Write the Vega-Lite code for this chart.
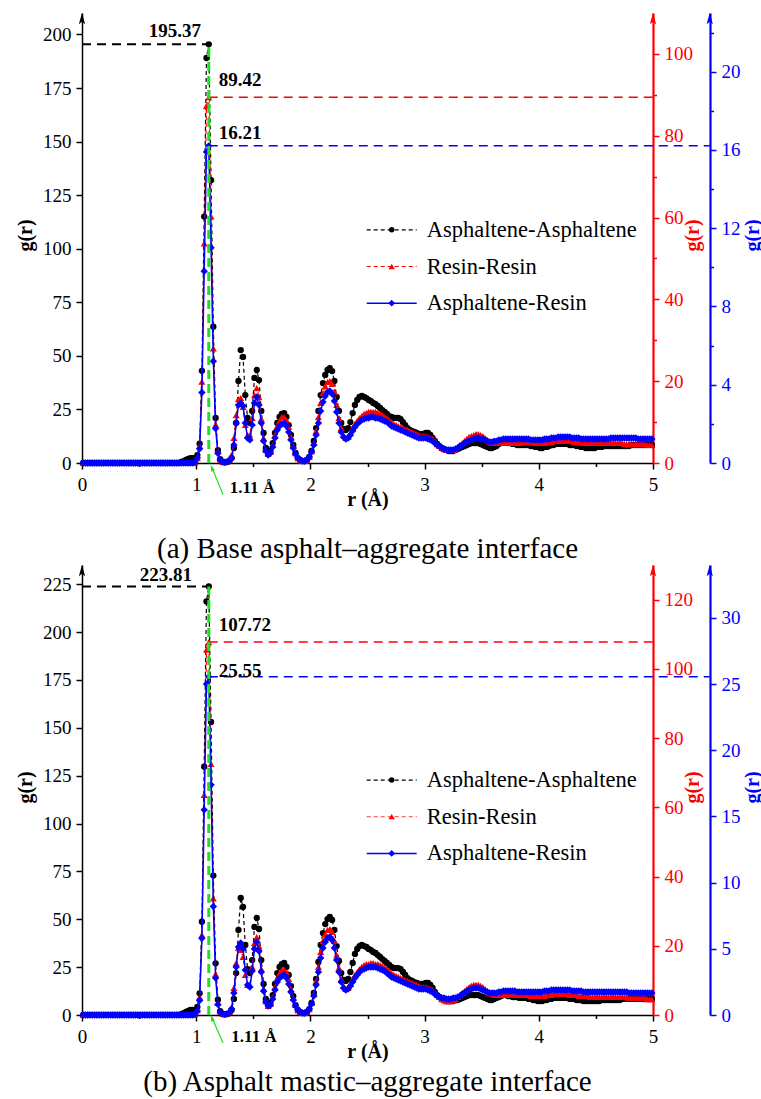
{
"$schema": "https://vega.github.io/schema/vega-lite/v6.json",
"background": "white",
"padding": {"left": 15, "top": 12, "right": 0, "bottom": 0},
"spacing": 0,
"config": {
  "view": {"stroke": null},
  "font": "Liberation Serif",
  "axis": {"grid": false, "labelFont": "Liberation Serif", "labelFontSize": 19, "titleFont": "Liberation Serif", "titleFontSize": 20, "titleFontWeight": "bold", "tickWidth": 1.5, "domainWidth": 1.5, "labelPadding": 5, "labelOverlap": false, "labelFlush": false, "labelBound": false, "domainColor": "black", "tickColor": "black", "labelColor": "black", "titleColor": "black"},
  "text": {"font": "Liberation Serif"},
  "title": {"font": "Liberation Serif"}
},
"datasets": {"rdf": [
{"r":0.01,"a1":0,"a2":0,"a3":0,"b1":0,"b2":0,"b3":0},
{"r":0.03,"a1":0,"a2":0,"a3":0,"b1":0,"b2":0,"b3":0},
{"r":0.05,"a1":0,"a2":0,"a3":0,"b1":0,"b2":0,"b3":0},
{"r":0.07,"a1":0,"a2":0,"a3":0,"b1":0,"b2":0,"b3":0},
{"r":0.09,"a1":0,"a2":0,"a3":0,"b1":0,"b2":0,"b3":0},
{"r":0.11,"a1":0,"a2":0,"a3":0,"b1":0,"b2":0,"b3":0},
{"r":0.13,"a1":0,"a2":0,"a3":0,"b1":0,"b2":0,"b3":0},
{"r":0.15,"a1":0,"a2":0,"a3":0,"b1":0,"b2":0,"b3":0},
{"r":0.17,"a1":0,"a2":0,"a3":0,"b1":0,"b2":0,"b3":0},
{"r":0.19,"a1":0,"a2":0,"a3":0,"b1":0,"b2":0,"b3":0},
{"r":0.21,"a1":0,"a2":0,"a3":0,"b1":0,"b2":0,"b3":0},
{"r":0.23,"a1":0,"a2":0,"a3":0,"b1":0,"b2":0,"b3":0},
{"r":0.25,"a1":0,"a2":0,"a3":0,"b1":0,"b2":0,"b3":0},
{"r":0.27,"a1":0,"a2":0,"a3":0,"b1":0,"b2":0,"b3":0},
{"r":0.29,"a1":0,"a2":0,"a3":0,"b1":0,"b2":0,"b3":0},
{"r":0.31,"a1":0,"a2":0,"a3":0,"b1":0,"b2":0,"b3":0},
{"r":0.33,"a1":0,"a2":0,"a3":0,"b1":0,"b2":0,"b3":0},
{"r":0.35,"a1":0,"a2":0,"a3":0,"b1":0,"b2":0,"b3":0},
{"r":0.37,"a1":0,"a2":0,"a3":0,"b1":0,"b2":0,"b3":0},
{"r":0.39,"a1":0,"a2":0,"a3":0,"b1":0,"b2":0,"b3":0},
{"r":0.41,"a1":0,"a2":0,"a3":0,"b1":0,"b2":0,"b3":0},
{"r":0.43,"a1":0,"a2":0,"a3":0,"b1":0,"b2":0,"b3":0},
{"r":0.45,"a1":0,"a2":0,"a3":0,"b1":0,"b2":0,"b3":0},
{"r":0.47,"a1":0,"a2":0,"a3":0,"b1":0,"b2":0,"b3":0},
{"r":0.49,"a1":0,"a2":0,"a3":0,"b1":0,"b2":0,"b3":0},
{"r":0.51,"a1":0,"a2":0,"a3":0,"b1":0,"b2":0,"b3":0},
{"r":0.53,"a1":0,"a2":0,"a3":0,"b1":0,"b2":0,"b3":0},
{"r":0.55,"a1":0,"a2":0,"a3":0,"b1":0,"b2":0,"b3":0},
{"r":0.57,"a1":0,"a2":0,"a3":0,"b1":0,"b2":0,"b3":0},
{"r":0.59,"a1":0,"a2":0,"a3":0,"b1":0,"b2":0,"b3":0},
{"r":0.61,"a1":0,"a2":0,"a3":0,"b1":0,"b2":0,"b3":0},
{"r":0.63,"a1":0,"a2":0,"a3":0,"b1":0,"b2":0,"b3":0},
{"r":0.65,"a1":0,"a2":0,"a3":0,"b1":0,"b2":0,"b3":0},
{"r":0.67,"a1":0,"a2":0,"a3":0,"b1":0,"b2":0,"b3":0},
{"r":0.69,"a1":0,"a2":0,"a3":0,"b1":0,"b2":0,"b3":0},
{"r":0.71,"a1":0,"a2":0,"a3":0,"b1":0,"b2":0,"b3":0},
{"r":0.73,"a1":0,"a2":0,"a3":0,"b1":0,"b2":0,"b3":0},
{"r":0.75,"a1":0,"a2":0,"a3":0,"b1":0,"b2":0,"b3":0},
{"r":0.77,"a1":0,"a2":0,"a3":0,"b1":0,"b2":0,"b3":0},
{"r":0.79,"a1":0,"a2":0,"a3":0,"b1":0,"b2":0,"b3":0},
{"r":0.81,"a1":0,"a2":0,"a3":0,"b1":0,"b2":0,"b3":0},
{"r":0.83,"a1":0,"a2":0,"a3":0,"b1":0,"b2":0,"b3":0},
{"r":0.85,"a1":0,"a2":0,"a3":0,"b1":0,"b2":0,"b3":0},
{"r":0.87,"a1":0.5,"a2":0,"a3":0,"b1":0.5,"b2":0,"b3":0},
{"r":0.89,"a1":0.9,"a2":0,"a3":0,"b1":1.0,"b2":0,"b3":0},
{"r":0.91,"a1":1.4,"a2":0,"a3":0,"b1":1.6,"b2":0,"b3":0},
{"r":0.93,"a1":1.9,"a2":0,"a3":0,"b1":2.1,"b2":0,"b3":0},
{"r":0.95,"a1":2.3,"a2":0,"a3":0,"b1":2.6,"b2":0,"b3":0},
{"r":0.97,"a1":2.3,"a2":0,"a3":0,"b1":2.6,"b2":0,"b3":0},
{"r":0.99,"a1":2.3,"a2":0.2,"a3":0.05,"b1":2.6,"b2":0.3,"b3":0.08},
{"r":1.01,"a1":3.7,"a2":1.2,"a3":0.26,"b1":4.2,"b2":1.4,"b3":0.3},
{"r":1.03,"a1":9,"a2":4.2,"a3":0.73,"b1":11.3,"b2":5.2,"b3":1.1},
{"r":1.05,"a1":43,"a2":19.9,"a3":3.6,"b1":48.7,"b2":23.1,"b3":5.8},
{"r":1.07,"a1":115,"a2":53.7,"a3":9.8,"b1":129.7,"b2":63.6,"b3":15.5},
{"r":1.09,"a1":189,"a2":87.3,"a3":15.9,"b1":216,"b2":105.5,"b3":25.0},
{"r":1.11,"a1":195.37,"a2":89.42,"a3":16.21,"b1":223.81,"b2":107.72,"b3":25.55},
{"r":1.13,"a1":132,"a2":60.3,"a3":11.0,"b1":153,"b2":72.5,"b3":17.4},
{"r":1.15,"a1":63.6,"a2":28,"a3":5.2,"b1":72.8,"b2":33.7,"b3":8.2},
{"r":1.17,"a1":21,"a2":9.4,"a3":1.76,"b1":27,"b2":11.8,"b3":2.8},
{"r":1.19,"a1":6,"a2":2.9,"a3":0.5,"b1":8,"b2":3.5,"b3":0.8},
{"r":1.21,"a1":1.8,"a2":0.9,"a3":0.15,"b1":2.0,"b2":1.0,"b3":0.2},
{"r":1.23,"a1":0.6,"a2":0.3,"a3":0.06,"b1":0.7,"b2":0.4,"b3":0.08},
{"r":1.25,"a1":0.3,"a2":0.2,"a3":0.04,"b1":0.4,"b2":0.2,"b3":0.05},
{"r":1.27,"a1":0.5,"a2":0.4,"a3":0.06,"b1":0.6,"b2":0.4,"b3":0.08},
{"r":1.29,"a1":0.9,"a2":0.7,"a3":0.1,"b1":1.0,"b2":0.9,"b3":0.15},
{"r":1.31,"a1":2.3,"a2":2.0,"a3":0.26,"b1":2.6,"b2":2.3,"b3":0.45},
{"r":1.33,"a1":7.0,"a2":6.1,"a3":0.92,"b1":8.4,"b2":7.8,"b3":1.66},
{"r":1.35,"a1":18.7,"a2":11.7,"a3":2.04,"b1":21.9,"b2":15.0,"b3":3.63},
{"r":1.37,"a1":38.3,"a2":15.6,"a3":2.96,"b1":44.4,"b2":19.4,"b3":5.14},
{"r":1.39,"a1":52.7,"a2":15.9,"a3":3.07,"b1":61.1,"b2":18.8,"b3":5.44},
{"r":1.41,"a1":49.5,"a2":13.7,"a3":2.91,"b1":56.4,"b2":16.8,"b3":4.99},
{"r":1.43,"a1":31.7,"a2":9.3,"a3":2.04,"b1":36.6,"b2":11.6,"b3":3.40},
{"r":1.45,"a1":21.0,"a2":6.8,"a3":1.28,"b1":24.0,"b2":8.7,"b3":2.27},
{"r":1.47,"a1":18.7,"a2":6.8,"a3":1.18,"b1":21.9,"b2":8.7,"b3":2.12},
{"r":1.49,"a1":24.3,"a2":11.0,"a3":1.94,"b1":28.7,"b2":13.9,"b3":3.32},
{"r":1.51,"a1":39.7,"a2":16.6,"a3":3.07,"b1":46.0,"b2":20.8,"b3":4.99},
{"r":1.53,"a1":43.4,"a2":18.3,"a3":3.37,"b1":50.7,"b2":22.5,"b3":5.52},
{"r":1.55,"a1":38.7,"a2":16.1,"a3":2.96,"b1":44.9,"b2":19.9,"b3":4.84},
{"r":1.57,"a1":24.3,"a2":10.8,"a3":2.04,"b1":28.7,"b2":13.3,"b3":3.25},
{"r":1.59,"a1":14.0,"a2":6.1,"a3":1.12,"b1":16.2,"b2":7.5,"b3":1.81},
{"r":1.61,"a1":7.0,"a2":3.2,"a3":0.61,"b1":8.4,"b2":4.0,"b3":0.98},
{"r":1.63,"a1":4.7,"a2":2.2,"a3":0.41,"b1":5.2,"b2":2.6,"b3":0.68},
{"r":1.65,"a1":5.6,"a2":2.7,"a3":0.51,"b1":6.3,"b2":3.2,"b3":0.76},
{"r":1.67,"a1":9.3,"a2":4.4,"a3":0.82,"b1":10.4,"b2":5.2,"b3":1.21},
{"r":1.69,"a1":14.0,"a2":6.8,"a3":1.28,"b1":16.2,"b2":8.1,"b3":1.89},
{"r":1.71,"a1":18.7,"a2":9.0,"a3":1.69,"b1":21.9,"b2":10.7,"b3":2.49},
{"r":1.73,"a1":21.5,"a2":10.3,"a3":1.89,"b1":25.1,"b2":12.1,"b3":2.80},
{"r":1.75,"a1":22.9,"a2":11.2,"a3":1.99,"b1":26.6,"b2":13.0,"b3":2.95},
{"r":1.77,"a1":23.3,"a2":11.2,"a3":2.04,"b1":27.2,"b2":13.0,"b3":3.02},
{"r":1.79,"a1":21.5,"a2":10.5,"a3":1.89,"b1":25.1,"b2":12.4,"b3":2.80},
{"r":1.81,"a1":17.7,"a2":8.8,"a3":1.58,"b1":20.9,"b2":10.4,"b3":2.34},
{"r":1.83,"a1":13.1,"a2":6.4,"a3":1.18,"b1":15.1,"b2":7.5,"b3":1.74},
{"r":1.85,"a1":8.4,"a2":4.2,"a3":0.77,"b1":9.9,"b2":4.9,"b3":1.13},
{"r":1.87,"a1":4.7,"a2":2.4,"a3":0.46,"b1":5.2,"b2":2.9,"b3":0.68},
{"r":1.89,"a1":2.3,"a2":1.2,"a3":0.26,"b1":2.6,"b2":1.4,"b3":0.38},
{"r":1.91,"a1":1.4,"a2":0.7,"a3":0.15,"b1":1.6,"b2":0.9,"b3":0.23},
{"r":1.93,"a1":0.9,"a2":0.5,"a3":0.10,"b1":1.0,"b2":0.6,"b3":0.15},
{"r":1.95,"a1":0.9,"a2":0.5,"a3":0.10,"b1":1.0,"b2":0.6,"b3":0.15},
{"r":1.97,"a1":1.4,"a2":0.7,"a3":0.15,"b1":1.6,"b2":0.9,"b3":0.23},
{"r":1.99,"a1":2.8,"a2":1.5,"a3":0.31,"b1":3.1,"b2":1.7,"b3":0.45},
{"r":2.01,"a1":5.6,"a2":2.9,"a3":0.56,"b1":6.3,"b2":3.5,"b3":0.83},
{"r":2.03,"a1":10.3,"a2":4.9,"a3":0.92,"b1":11.5,"b2":6.1,"b3":1.44},
{"r":2.05,"a1":16.3,"a2":7.8,"a3":1.43,"b1":18.8,"b2":9.8,"b3":2.27},
{"r":2.07,"a1":24.3,"a2":11.2,"a3":2.04,"b1":27.7,"b2":13.9,"b3":3.25},
{"r":2.09,"a1":31.7,"a2":14.7,"a3":2.66,"b1":36.6,"b2":18.2,"b3":4.31},
{"r":2.11,"a1":37.3,"a2":17.1,"a3":3.12,"b1":42.8,"b2":21.4,"b3":5.06},
{"r":2.13,"a1":41.1,"a2":18.8,"a3":3.42,"b1":47.5,"b2":23.4,"b3":5.52},
{"r":2.15,"a1":43.4,"a2":19.8,"a3":3.63,"b1":50.1,"b2":24.6,"b3":5.82},
{"r":2.17,"a1":44.3,"a2":20.0,"a3":3.68,"b1":51.2,"b2":24.8,"b3":5.89},
{"r":2.19,"a1":42.9,"a2":19.3,"a3":3.53,"b1":49.6,"b2":24.0,"b3":5.67},
{"r":2.21,"a1":38.3,"a2":17.4,"a3":3.17,"b1":44.4,"b2":21.4,"b3":5.06},
{"r":2.23,"a1":30.8,"a2":14.2,"a3":2.61,"b1":36.0,"b2":17.3,"b3":4.16},
{"r":2.25,"a1":24.3,"a2":11.0,"a3":2.04,"b1":28.2,"b2":13.6,"b3":3.25},
{"r":2.27,"a1":18.7,"a2":8.6,"a3":1.58,"b1":21.9,"b2":10.4,"b3":2.49},
{"r":2.29,"a1":15.9,"a2":6.8,"a3":1.33,"b1":18.3,"b2":8.4,"b3":2.04},
{"r":2.31,"a1":15.4,"a2":6.1,"a3":1.23,"b1":17.8,"b2":7.5,"b3":1.89},
{"r":2.33,"a1":16.3,"a2":6.4,"a3":1.28,"b1":18.8,"b2":7.8,"b3":1.96},
{"r":2.35,"a1":19.1,"a2":7.3,"a3":1.43,"b1":22.5,"b2":9.0,"b3":2.19},
{"r":2.37,"a1":23.3,"a2":8.6,"a3":1.64,"b1":27.2,"b2":10.4,"b3":2.49},
{"r":2.39,"a1":27.1,"a2":9.5,"a3":1.84,"b1":31.9,"b2":11.6,"b3":2.80},
{"r":2.41,"a1":29.4,"a2":10.3,"a3":1.99,"b1":34.5,"b2":12.4,"b3":3.02},
{"r":2.43,"a1":30.8,"a2":11.0,"a3":2.10,"b1":36.0,"b2":13.3,"b3":3.25},
{"r":2.45,"a1":31.3,"a2":11.5,"a3":2.20,"b1":36.6,"b2":13.9,"b3":3.40},
{"r":2.47,"a1":30.8,"a2":12.0,"a3":2.25,"b1":36.0,"b2":14.4,"b3":3.48},
{"r":2.49,"a1":30.3,"a2":12.2,"a3":2.30,"b1":35.5,"b2":14.7,"b3":3.55},
{"r":2.51,"a1":29.4,"a2":12.5,"a3":2.30,"b1":34.5,"b2":14.7,"b3":3.63},
{"r":2.53,"a1":28.9,"a2":12.5,"a3":2.35,"b1":33.9,"b2":15.0,"b3":3.63},
{"r":2.55,"a1":28.0,"a2":12.5,"a3":2.35,"b1":32.9,"b2":15.0,"b3":3.63},
{"r":2.57,"a1":27.5,"a2":12.5,"a3":2.30,"b1":32.4,"b2":14.7,"b3":3.63},
{"r":2.59,"a1":26.6,"a2":12.2,"a3":2.30,"b1":31.3,"b2":14.7,"b3":3.55},
{"r":2.61,"a1":25.7,"a2":12.0,"a3":2.25,"b1":30.3,"b2":14.4,"b3":3.48},
{"r":2.63,"a1":24.7,"a2":11.7,"a3":2.20,"b1":29.2,"b2":14.2,"b3":3.40},
{"r":2.65,"a1":23.8,"a2":11.2,"a3":2.15,"b1":28.2,"b2":13.6,"b3":3.32},
{"r":2.67,"a1":22.9,"a2":11.0,"a3":2.10,"b1":27.2,"b2":13.3,"b3":3.17},
{"r":2.69,"a1":21.9,"a2":10.5,"a3":1.99,"b1":26.1,"b2":12.7,"b3":3.02},
{"r":2.71,"a1":21.5,"a2":10.0,"a3":1.89,"b1":25.1,"b2":12.1,"b3":2.87},
{"r":2.73,"a1":21.0,"a2":9.5,"a3":1.84,"b1":24.5,"b2":11.6,"b3":2.80},
{"r":2.75,"a1":21.0,"a2":9.3,"a3":1.79,"b1":24.5,"b2":11.3,"b3":2.72},
{"r":2.77,"a1":21.0,"a2":9.0,"a3":1.74,"b1":24.5,"b2":11.0,"b3":2.64},
{"r":2.79,"a1":20.5,"a2":8.8,"a3":1.69,"b1":24.0,"b2":10.7,"b3":2.57},
{"r":2.81,"a1":19.1,"a2":8.6,"a3":1.64,"b1":22.5,"b2":10.4,"b3":2.49},
{"r":2.83,"a1":17.7,"a2":8.3,"a3":1.58,"b1":20.9,"b2":10.1,"b3":2.42},
{"r":2.85,"a1":16.3,"a2":8.1,"a3":1.53,"b1":19.3,"b2":9.8,"b3":2.34},
{"r":2.87,"a1":15.4,"a2":7.8,"a3":1.48,"b1":18.3,"b2":9.5,"b3":2.27},
{"r":2.89,"a1":14.9,"a2":7.6,"a3":1.43,"b1":17.8,"b2":9.2,"b3":2.19},
{"r":2.91,"a1":14.5,"a2":7.3,"a3":1.38,"b1":17.2,"b2":9.0,"b3":2.12},
{"r":2.93,"a1":14.0,"a2":7.1,"a3":1.33,"b1":16.7,"b2":8.7,"b3":2.04},
{"r":2.95,"a1":13.5,"a2":6.8,"a3":1.28,"b1":16.2,"b2":8.4,"b3":1.96},
{"r":2.97,"a1":13.5,"a2":6.6,"a3":1.28,"b1":16.2,"b2":8.1,"b3":1.96},
{"r":2.99,"a1":13.5,"a2":6.6,"a3":1.28,"b1":16.2,"b2":8.1,"b3":1.96},
{"r":3.01,"a1":14.0,"a2":6.6,"a3":1.28,"b1":16.7,"b2":8.1,"b3":1.96},
{"r":3.03,"a1":14.0,"a2":6.4,"a3":1.23,"b1":16.7,"b2":7.8,"b3":1.89},
{"r":3.05,"a1":13.1,"a2":6.1,"a3":1.18,"b1":15.7,"b2":7.5,"b3":1.81},
{"r":3.07,"a1":11.7,"a2":5.9,"a3":1.12,"b1":14.1,"b2":7.2,"b3":1.74},
{"r":3.09,"a1":10.3,"a2":5.4,"a3":1.02,"b1":12.0,"b2":6.6,"b3":1.59},
{"r":3.11,"a1":8.9,"a2":4.6,"a3":0.92,"b1":10.4,"b2":5.8,"b3":1.44},
{"r":3.13,"a1":7.9,"a2":4.2,"a3":0.87,"b1":9.4,"b2":5.2,"b3":1.36},
{"r":3.15,"a1":7.0,"a2":3.7,"a3":0.77,"b1":8.4,"b2":4.6,"b3":1.28},
{"r":3.17,"a1":6.5,"a2":3.4,"a3":0.72,"b1":7.8,"b2":4.3,"b3":1.28},
{"r":3.19,"a1":6.1,"a2":3.2,"a3":0.67,"b1":7.3,"b2":4.0,"b3":1.21},
{"r":3.21,"a1":5.6,"a2":3.2,"a3":0.67,"b1":7.3,"b2":4.0,"b3":1.21},
{"r":3.23,"a1":5.6,"a2":3.2,"a3":0.67,"b1":7.3,"b2":4.0,"b3":1.21},
{"r":3.25,"a1":5.6,"a2":3.2,"a3":0.67,"b1":7.3,"b2":4.3,"b3":1.28},
{"r":3.27,"a1":6.1,"a2":3.4,"a3":0.72,"b1":7.8,"b2":4.6,"b3":1.28},
{"r":3.29,"a1":6.5,"a2":3.9,"a3":0.77,"b1":7.8,"b2":5.2,"b3":1.36},
{"r":3.31,"a1":7.0,"a2":4.4,"a3":0.87,"b1":8.4,"b2":5.8,"b3":1.44},
{"r":3.33,"a1":7.5,"a2":4.9,"a3":0.92,"b1":8.9,"b2":6.4,"b3":1.59},
{"r":3.35,"a1":7.9,"a2":5.4,"a3":1.02,"b1":9.4,"b2":6.9,"b3":1.66},
{"r":3.37,"a1":8.4,"a2":5.9,"a3":1.07,"b1":9.9,"b2":7.5,"b3":1.81},
{"r":3.39,"a1":8.9,"a2":6.4,"a3":1.12,"b1":10.4,"b2":8.1,"b3":1.89},
{"r":3.41,"a1":9.3,"a2":6.6,"a3":1.18,"b1":10.4,"b2":8.4,"b3":1.96},
{"r":3.43,"a1":9.3,"a2":6.8,"a3":1.23,"b1":10.4,"b2":8.7,"b3":2.04},
{"r":3.45,"a1":9.3,"a2":7.1,"a3":1.28,"b1":10.4,"b2":8.7,"b3":2.04},
{"r":3.47,"a1":9.3,"a2":7.1,"a3":1.28,"b1":10.4,"b2":8.7,"b3":2.04},
{"r":3.49,"a1":8.9,"a2":6.8,"a3":1.23,"b1":9.9,"b2":8.4,"b3":1.96},
{"r":3.51,"a1":8.4,"a2":6.6,"a3":1.23,"b1":9.4,"b2":8.1,"b3":1.89},
{"r":3.53,"a1":7.9,"a2":6.1,"a3":1.18,"b1":8.9,"b2":7.5,"b3":1.81},
{"r":3.55,"a1":7.5,"a2":5.6,"a3":1.12,"b1":8.4,"b2":6.9,"b3":1.74},
{"r":3.57,"a1":7.0,"a2":5.1,"a3":1.07,"b1":7.8,"b2":6.4,"b3":1.66},
{"r":3.59,"a1":7.0,"a2":4.9,"a3":1.07,"b1":7.8,"b2":6.1,"b3":1.66},
{"r":3.61,"a1":7.5,"a2":4.9,"a3":1.12,"b1":8.4,"b2":5.8,"b3":1.66},
{"r":3.63,"a1":7.9,"a2":4.9,"a3":1.12,"b1":8.9,"b2":5.8,"b3":1.66},
{"r":3.65,"a1":8.9,"a2":4.9,"a3":1.18,"b1":9.4,"b2":5.8,"b3":1.74},
{"r":3.67,"a1":9.3,"a2":4.9,"a3":1.18,"b1":9.9,"b2":5.8,"b3":1.74},
{"r":3.69,"a1":9.8,"a2":4.9,"a3":1.23,"b1":10.4,"b2":5.8,"b3":1.81},
{"r":3.71,"a1":9.8,"a2":4.9,"a3":1.23,"b1":10.4,"b2":5.8,"b3":1.81},
{"r":3.73,"a1":9.3,"a2":4.9,"a3":1.23,"b1":9.9,"b2":5.8,"b3":1.81},
{"r":3.75,"a1":9.3,"a2":4.9,"a3":1.23,"b1":9.9,"b2":5.8,"b3":1.81},
{"r":3.77,"a1":8.9,"a2":4.9,"a3":1.23,"b1":9.4,"b2":5.8,"b3":1.81},
{"r":3.79,"a1":8.9,"a2":4.9,"a3":1.23,"b1":9.4,"b2":5.8,"b3":1.81},
{"r":3.81,"a1":8.4,"a2":4.9,"a3":1.23,"b1":9.4,"b2":5.8,"b3":1.74},
{"r":3.83,"a1":8.4,"a2":4.9,"a3":1.23,"b1":8.9,"b2":5.8,"b3":1.74},
{"r":3.85,"a1":8.4,"a2":5.1,"a3":1.23,"b1":8.9,"b2":5.8,"b3":1.74},
{"r":3.87,"a1":8.4,"a2":5.1,"a3":1.23,"b1":8.9,"b2":5.8,"b3":1.74},
{"r":3.89,"a1":8.4,"a2":5.1,"a3":1.23,"b1":8.9,"b2":5.8,"b3":1.74},
{"r":3.91,"a1":8.4,"a2":5.1,"a3":1.23,"b1":8.4,"b2":5.8,"b3":1.74},
{"r":3.93,"a1":7.9,"a2":5.1,"a3":1.18,"b1":8.4,"b2":5.5,"b3":1.74},
{"r":3.95,"a1":7.9,"a2":5.1,"a3":1.18,"b1":7.8,"b2":5.5,"b3":1.74},
{"r":3.97,"a1":7.5,"a2":4.9,"a3":1.18,"b1":7.8,"b2":5.5,"b3":1.74},
{"r":3.99,"a1":7.5,"a2":4.9,"a3":1.18,"b1":7.3,"b2":5.5,"b3":1.74},
{"r":4.01,"a1":7.0,"a2":4.9,"a3":1.18,"b1":7.3,"b2":5.5,"b3":1.74},
{"r":4.03,"a1":7.0,"a2":4.9,"a3":1.18,"b1":7.3,"b2":5.5,"b3":1.74},
{"r":4.05,"a1":7.5,"a2":4.9,"a3":1.23,"b1":7.8,"b2":5.5,"b3":1.81},
{"r":4.07,"a1":7.5,"a2":5.1,"a3":1.23,"b1":7.8,"b2":5.8,"b3":1.81},
{"r":4.09,"a1":7.9,"a2":5.1,"a3":1.23,"b1":8.4,"b2":5.8,"b3":1.81},
{"r":4.11,"a1":8.4,"a2":5.1,"a3":1.28,"b1":8.4,"b2":5.8,"b3":1.89},
{"r":4.13,"a1":8.4,"a2":5.4,"a3":1.28,"b1":8.9,"b2":6.1,"b3":1.89},
{"r":4.15,"a1":8.9,"a2":5.4,"a3":1.28,"b1":8.9,"b2":6.1,"b3":1.89},
{"r":4.17,"a1":8.9,"a2":5.4,"a3":1.33,"b1":8.9,"b2":6.1,"b3":1.89},
{"r":4.19,"a1":8.9,"a2":5.4,"a3":1.33,"b1":8.9,"b2":6.1,"b3":1.89},
{"r":4.21,"a1":8.9,"a2":5.4,"a3":1.33,"b1":8.9,"b2":6.1,"b3":1.89},
{"r":4.23,"a1":8.9,"a2":5.4,"a3":1.33,"b1":8.9,"b2":6.1,"b3":1.89},
{"r":4.25,"a1":8.9,"a2":5.4,"a3":1.33,"b1":8.9,"b2":6.1,"b3":1.89},
{"r":4.27,"a1":8.4,"a2":5.4,"a3":1.33,"b1":8.4,"b2":5.8,"b3":1.89},
{"r":4.29,"a1":8.4,"a2":5.4,"a3":1.28,"b1":8.4,"b2":5.8,"b3":1.81},
{"r":4.31,"a1":8.4,"a2":5.1,"a3":1.28,"b1":8.4,"b2":5.8,"b3":1.81},
{"r":4.33,"a1":7.9,"a2":5.1,"a3":1.28,"b1":7.8,"b2":5.8,"b3":1.81},
{"r":4.35,"a1":7.9,"a2":5.1,"a3":1.28,"b1":7.8,"b2":5.5,"b3":1.81},
{"r":4.37,"a1":7.5,"a2":5.1,"a3":1.23,"b1":7.8,"b2":5.5,"b3":1.81},
{"r":4.39,"a1":7.5,"a2":4.9,"a3":1.23,"b1":7.3,"b2":5.5,"b3":1.74},
{"r":4.41,"a1":7.0,"a2":4.9,"a3":1.23,"b1":7.3,"b2":5.5,"b3":1.74},
{"r":4.43,"a1":7.0,"a2":4.9,"a3":1.23,"b1":7.3,"b2":5.5,"b3":1.74},
{"r":4.45,"a1":7.0,"a2":4.9,"a3":1.23,"b1":7.3,"b2":5.2,"b3":1.74},
{"r":4.47,"a1":7.0,"a2":4.9,"a3":1.23,"b1":7.3,"b2":5.2,"b3":1.74},
{"r":4.49,"a1":7.0,"a2":4.9,"a3":1.23,"b1":7.3,"b2":5.2,"b3":1.74},
{"r":4.51,"a1":7.5,"a2":4.9,"a3":1.23,"b1":7.3,"b2":5.2,"b3":1.74},
{"r":4.53,"a1":7.5,"a2":4.9,"a3":1.23,"b1":7.3,"b2":5.2,"b3":1.74},
{"r":4.55,"a1":7.5,"a2":4.9,"a3":1.23,"b1":7.8,"b2":5.2,"b3":1.74},
{"r":4.57,"a1":7.9,"a2":4.9,"a3":1.23,"b1":7.8,"b2":5.2,"b3":1.74},
{"r":4.59,"a1":7.9,"a2":4.9,"a3":1.23,"b1":7.8,"b2":5.2,"b3":1.74},
{"r":4.61,"a1":7.9,"a2":4.9,"a3":1.23,"b1":7.8,"b2":5.2,"b3":1.74},
{"r":4.63,"a1":7.9,"a2":4.9,"a3":1.28,"b1":7.8,"b2":5.2,"b3":1.74},
{"r":4.65,"a1":7.9,"a2":4.9,"a3":1.28,"b1":7.8,"b2":5.2,"b3":1.74},
{"r":4.67,"a1":7.9,"a2":4.9,"a3":1.28,"b1":7.8,"b2":5.2,"b3":1.74},
{"r":4.69,"a1":7.9,"a2":4.9,"a3":1.28,"b1":7.8,"b2":5.2,"b3":1.74},
{"r":4.71,"a1":7.9,"a2":4.9,"a3":1.28,"b1":7.8,"b2":5.2,"b3":1.74},
{"r":4.73,"a1":7.9,"a2":4.9,"a3":1.28,"b1":8.4,"b2":5.2,"b3":1.74},
{"r":4.75,"a1":7.9,"a2":4.6,"a3":1.28,"b1":8.4,"b2":5.2,"b3":1.74},
{"r":4.77,"a1":7.9,"a2":4.6,"a3":1.28,"b1":8.4,"b2":5.2,"b3":1.74},
{"r":4.79,"a1":7.9,"a2":4.6,"a3":1.28,"b1":8.4,"b2":4.9,"b3":1.66},
{"r":4.81,"a1":8.4,"a2":4.6,"a3":1.28,"b1":8.4,"b2":4.9,"b3":1.66},
{"r":4.83,"a1":8.4,"a2":4.6,"a3":1.28,"b1":8.4,"b2":4.9,"b3":1.66},
{"r":4.85,"a1":8.4,"a2":4.6,"a3":1.28,"b1":8.4,"b2":4.9,"b3":1.66},
{"r":4.87,"a1":8.4,"a2":4.6,"a3":1.23,"b1":8.4,"b2":4.9,"b3":1.66},
{"r":4.89,"a1":8.4,"a2":4.6,"a3":1.23,"b1":8.4,"b2":4.9,"b3":1.66},
{"r":4.91,"a1":8.4,"a2":4.6,"a3":1.23,"b1":8.4,"b2":4.9,"b3":1.66},
{"r":4.93,"a1":8.4,"a2":4.6,"a3":1.23,"b1":8.4,"b2":4.9,"b3":1.66},
{"r":4.95,"a1":8.4,"a2":4.4,"a3":1.23,"b1":8.4,"b2":4.6,"b3":1.66},
{"r":4.97,"a1":8.4,"a2":4.4,"a3":1.23,"b1":8.4,"b2":4.6,"b3":1.66},
{"r":4.99,"a1":8.4,"a2":4.4,"a3":1.23,"b1":8.4,"b2":4.6,"b3":1.66}
]},
"vconcat": [
{
  "width": 571, "height": 450,
  "data": {"name": "rdf"},
  "title": {"text": "(a) Base asphalt–aggregate interface", "orient": "bottom", "anchor": "middle", "fontSize": 29, "fontWeight": "normal", "font": "Liberation Serif", "color": "black", "offset": 26},
  "layer": [
    {"layer": [
      {"mark": {"type": "line", "color": "black", "strokeWidth": 1.2, "strokeDash": [4, 3]},
       "encoding": {
         "x": {"field": "r", "type": "quantitative", "scale": {"domain": [0, 5], "nice": false}, "axis": {"title": "r (Å)", "titleFont": "Liberation Serif", "labelFont": "Liberation Serif", "labelFontSize": 19, "values": [0,0.5,1,1.5,2,2.5,3,3.5,4,4.5,5], "labelExpr": "datum.value % 1 === 0 ? format(datum.value, 'd') : ''", "tickSize": {"condition": {"test": "datum.value % 1 !== 0", "value": 3.5}, "value": 6}, "labelPadding": 6, "titlePadding": -5}},
         "y": {"field": "a1", "type": "quantitative", "scale": {"domain": [0, 210], "nice": false}, "axis": {"orient": "left", "title": "g(r)", "titleFont": "Liberation Serif", "labelFont": "Liberation Serif", "labelFontSize": 19, "titleAngle": 270, "titleX": -57, "titleY": 222, "titleAlign": "center", "titleBaseline": "middle", "values": [0,12.5,25,37.5,50,62.5,75,87.5,100,112.5,125,137.5,150,162.5,175,187.5,200], "labelExpr": "datum.value % 25 === 0 ? format(datum.value, 'd') : ''", "tickSize": {"condition": {"test": "datum.value % 25 !== 0", "value": 3.5}, "value": 6}}}}},
      {"mark": {"type": "point", "shape": "circle", "filled": true, "color": "black", "size": 40, "opacity": 1},
       "encoding": {"x": {"field": "r", "type": "quantitative"}, "y": {"field": "a1", "type": "quantitative"}}},
      {"data": {"values": [{}]}, "mark": {"type": "rule", "color": "black", "strokeWidth": 2, "strokeDash": [9, 6]},
       "encoding": {"x": {"datum": 0}, "x2": {"datum": 1.11}, "y": {"datum": 195.37}}},
      {"data": {"values": [{}]}, "mark": {"type": "text", "text": "195.37", "align": "center", "baseline": "middle", "dx": -34, "dy": -13, "fontSize": 19, "fontWeight": "bold", "font": "Liberation Serif", "color": "black"},
       "encoding": {"x": {"datum": 1.11}, "y": {"datum": 195.37}}},
      {"data": {"values": [{}]}, "mark": {"type": "point", "shape": "M0,-1L-0.55,1L0,0.55L0.55,1Z", "filled": true, "color": "black", "size": 130, "opacity": 1, "yOffset": 5.5},
       "encoding": {"x": {"datum": 0}, "y": {"datum": 210}}}
    ]},
    {"layer": [
      {"mark": {"type": "line", "color": "red", "strokeWidth": 1.2, "strokeDash": [4, 3]},
       "encoding": {
         "x": {"field": "r", "type": "quantitative"},
         "y": {"field": "a2", "type": "quantitative", "scale": {"domain": [0, 110], "nice": false}, "axis": {"orient": "right", "title": "g(r)", "titleFont": "Liberation Serif", "labelFont": "Liberation Serif", "labelFontSize": 19, "titleColor": "red", "titleAngle": 270, "titleX": 39, "titleY": 222, "titleAlign": "center", "titleBaseline": "middle", "values": [0,10,20,30,40,50,60,70,80,90,100], "labelExpr": "datum.value % 20 === 0 ? format(datum.value, 'd') : ''", "tickSize": {"condition": {"test": "datum.value % 20 !== 0", "value": 3.5}, "value": 6}, "domainColor": "red", "tickColor": "red", "labelColor": "red", "domainWidth": 2.2}}}},
      {"mark": {"type": "point", "shape": "triangle-up", "filled": true, "color": "red", "size": 50, "opacity": 1},
       "encoding": {"x": {"field": "r", "type": "quantitative"}, "y": {"field": "a2", "type": "quantitative"}}},
      {"data": {"values": [{}]}, "mark": {"type": "rule", "color": "red", "strokeWidth": 1.5, "strokeDash": [9, 6]},
       "encoding": {"x": {"datum": 1.11}, "x2": {"datum": 5}, "y": {"datum": 89.42}}},
      {"data": {"values": [{}]}, "mark": {"type": "text", "text": "89.42", "align": "left", "baseline": "middle", "dx": 10, "dy": -17, "fontSize": 19, "fontWeight": "bold", "font": "Liberation Serif", "color": "black"},
       "encoding": {"x": {"datum": 1.11}, "y": {"datum": 89.42}}},
      {"data": {"values": [{}]}, "mark": {"type": "point", "shape": "M0,-1L-0.55,1L0,0.55L0.55,1Z", "filled": true, "color": "red", "size": 130, "opacity": 1, "yOffset": 5.5},
       "encoding": {"x": {"datum": 5}, "y": {"datum": 110}}}
    ]},
    {"layer": [
      {"mark": {"type": "line", "color": "blue", "strokeWidth": 1.5},
       "encoding": {
         "x": {"field": "r", "type": "quantitative"},
         "y": {"field": "a3", "type": "quantitative", "scale": {"domain": [0, 23], "nice": false}, "axis": {"orient": "right", "offset": 57, "title": "g(r)", "titleFont": "Liberation Serif", "labelFont": "Liberation Serif", "labelFontSize": 19, "titleColor": "blue", "titleAngle": 270, "titleX": 42, "titleY": 222, "titleAlign": "center", "titleBaseline": "middle", "values": [0,2,4,6,8,10,12,14,16,18,20,22], "labelExpr": "datum.value % 4 === 0 ? format(datum.value, 'd') : ''", "tickSize": {"condition": {"test": "datum.value % 4 !== 0", "value": 3.5}, "value": 6}, "domainColor": "blue", "tickColor": "blue", "labelColor": "blue", "domainWidth": 2.2}}}},
      {"mark": {"type": "point", "shape": "diamond", "filled": true, "color": "blue", "size": 55, "opacity": 1},
       "encoding": {"x": {"field": "r", "type": "quantitative"}, "y": {"field": "a3", "type": "quantitative"}}},
      {"data": {"values": [{}]}, "mark": {"type": "rule", "color": "blue", "strokeWidth": 1.5, "strokeDash": [9, 6]},
       "encoding": {"x": {"datum": 1.11}, "x2": {"datum": 5.497}, "y": {"datum": 16.21}}},
      {"data": {"values": [{}]}, "mark": {"type": "text", "text": "16.21", "align": "left", "baseline": "middle", "dx": 10, "dy": -13, "fontSize": 19, "fontWeight": "bold", "font": "Liberation Serif", "color": "black"},
       "encoding": {"x": {"datum": 1.11}, "y": {"datum": 16.21}}},
      {"data": {"values": [{}]}, "mark": {"type": "point", "shape": "M0,-1L-0.55,1L0,0.55L0.55,1Z", "filled": true, "color": "blue", "size": 130, "opacity": 1, "yOffset": 5.5},
       "encoding": {"x": {"datum": 5.497}, "y": {"datum": 23}}}
    ]},
    {"layer": [
      {"data": {"values": [{}]}, "mark": {"type": "rule", "color": "#22dd22", "strokeWidth": 3, "strokeDash": [9, 5]},
       "encoding": {"x": {"datum": 1.11}, "y": {"datum": 0, "scale": {"domain": [0, 210], "nice": false}, "axis": null}, "y2": {"datum": 195.37}}},
      {"data": {"values": [{}]}, "mark": {"type": "rule", "color": "#22dd22", "strokeWidth": 1.2},
       "encoding": {"x": {"datum": 1.235}, "y": {"datum": -14.8}, "x2": {"datum": 1.135}, "y2": {"datum": -1.8}}},
      {"data": {"values": [{}]}, "mark": {"type": "point", "shape": "M0,-1L-0.6,1L0.6,1Z", "filled": true, "color": "#22dd22", "size": 45, "angle": -22, "opacity": 1},
       "encoding": {"x": {"datum": 1.137}, "y": {"datum": -2.3}}},
      {"data": {"values": [{}]}, "mark": {"type": "text", "text": "1.11 Å", "align": "left", "baseline": "middle", "dx": 21, "dy": 24.5, "fontSize": 17, "fontWeight": "bold", "font": "Liberation Serif", "color": "black"},
       "encoding": {"x": {"datum": 1.11}, "y": {"datum": 0}}},
      {"data": {"values": [{}]}, "mark": {"type": "rule", "color": "black", "strokeWidth": 1.2, "strokeDash": [4, 3]},
       "encoding": {"x": {"datum": 2.493}, "x2": {"datum": 2.931}, "y": {"datum": 108.8}}},
      {"data": {"values": [{}]}, "mark": {"type": "point", "shape": "circle", "filled": true, "color": "black", "size": 30, "opacity": 1},
       "encoding": {"x": {"datum": 2.712}, "y": {"datum": 108.8}}},
      {"data": {"values": [{}]}, "mark": {"type": "text", "text": "Asphaltene-Asphaltene", "align": "left", "baseline": "middle", "fontSize": 22.5, "font": "Liberation Serif", "color": "black"},
       "encoding": {"x": {"datum": 3.019}, "y": {"datum": 108.8}}},
      {"data": {"values": [{}]}, "mark": {"type": "rule", "color": "red", "strokeWidth": 1.2, "strokeDash": [4, 3]},
       "encoding": {"x": {"datum": 2.493}, "x2": {"datum": 2.931}, "y": {"datum": 91.7}}},
      {"data": {"values": [{}]}, "mark": {"type": "point", "shape": "triangle-up", "filled": true, "color": "red", "size": 40, "opacity": 1},
       "encoding": {"x": {"datum": 2.712}, "y": {"datum": 91.7}}},
      {"data": {"values": [{}]}, "mark": {"type": "text", "text": "Resin-Resin", "align": "left", "baseline": "middle", "fontSize": 22.5, "font": "Liberation Serif", "color": "black"},
       "encoding": {"x": {"datum": 3.019}, "y": {"datum": 91.7}}},
      {"data": {"values": [{}]}, "mark": {"type": "rule", "color": "blue", "strokeWidth": 1.5},
       "encoding": {"x": {"datum": 2.493}, "x2": {"datum": 2.931}, "y": {"datum": 74.6}}},
      {"data": {"values": [{}]}, "mark": {"type": "point", "shape": "diamond", "filled": true, "color": "blue", "size": 45, "opacity": 1},
       "encoding": {"x": {"datum": 2.712}, "y": {"datum": 74.6}}},
      {"data": {"values": [{}]}, "mark": {"type": "text", "text": "Asphaltene-Resin", "align": "left", "baseline": "middle", "fontSize": 22.5, "font": "Liberation Serif", "color": "black"},
       "encoding": {"x": {"datum": 3.019}, "y": {"datum": 74.6}}}
    ]}
  ],
  "resolve": {"scale": {"y": "independent"}}
},
{
  "width": 571, "height": 450,
  "data": {"name": "rdf"},
  "title": {"text": "(b) Asphalt mastic–aggregate interface", "orient": "bottom", "anchor": "middle", "fontSize": 29, "fontWeight": "normal", "font": "Liberation Serif", "color": "black", "offset": 7},
  "layer": [
    {"layer": [
      {"mark": {"type": "line", "color": "black", "strokeWidth": 1.2, "strokeDash": [4, 3]},
       "encoding": {
         "x": {"field": "r", "type": "quantitative", "scale": {"domain": [0, 5], "nice": false}, "axis": {"title": "r (Å)", "titleFont": "Liberation Serif", "labelFont": "Liberation Serif", "labelFontSize": 19, "values": [0,0.5,1,1.5,2,2.5,3,3.5,4,4.5,5], "labelExpr": "datum.value % 1 === 0 ? format(datum.value, 'd') : ''", "tickSize": {"condition": {"test": "datum.value % 1 !== 0", "value": 3.5}, "value": 6}, "labelPadding": 6, "titlePadding": -5}},
         "y": {"field": "b1", "type": "quantitative", "scale": {"domain": [0, 235], "nice": false}, "axis": {"orient": "left", "title": "g(r)", "titleFont": "Liberation Serif", "labelFont": "Liberation Serif", "labelFontSize": 19, "titleAngle": 270, "titleX": -57, "titleY": 222, "titleAlign": "center", "titleBaseline": "middle", "values": [0,12.5,25,37.5,50,62.5,75,87.5,100,112.5,125,137.5,150,162.5,175,187.5,200,212.5,225], "labelExpr": "datum.value % 25 === 0 ? format(datum.value, 'd') : ''", "tickSize": {"condition": {"test": "datum.value % 25 !== 0", "value": 3.5}, "value": 6}}}}},
      {"mark": {"type": "point", "shape": "circle", "filled": true, "color": "black", "size": 40, "opacity": 1},
       "encoding": {"x": {"field": "r", "type": "quantitative"}, "y": {"field": "b1", "type": "quantitative"}}},
      {"data": {"values": [{}]}, "mark": {"type": "rule", "color": "black", "strokeWidth": 2, "strokeDash": [9, 6]},
       "encoding": {"x": {"datum": 0}, "x2": {"datum": 1.11}, "y": {"datum": 223.81}}},
      {"data": {"values": [{}]}, "mark": {"type": "text", "text": "223.81", "align": "center", "baseline": "middle", "dx": -43, "dy": -11, "fontSize": 19, "fontWeight": "bold", "font": "Liberation Serif", "color": "black"},
       "encoding": {"x": {"datum": 1.11}, "y": {"datum": 223.81}}},
      {"data": {"values": [{}]}, "mark": {"type": "point", "shape": "M0,-1L-0.55,1L0,0.55L0.55,1Z", "filled": true, "color": "black", "size": 130, "opacity": 1, "yOffset": 5.5},
       "encoding": {"x": {"datum": 0}, "y": {"datum": 235}}}
    ]},
    {"layer": [
      {"mark": {"type": "line", "color": "red", "strokeWidth": 1.2, "strokeDash": [4, 3]},
       "encoding": {
         "x": {"field": "r", "type": "quantitative"},
         "y": {"field": "b2", "type": "quantitative", "scale": {"domain": [0, 130], "nice": false}, "axis": {"orient": "right", "title": "g(r)", "titleFont": "Liberation Serif", "labelFont": "Liberation Serif", "labelFontSize": 19, "titleColor": "red", "titleAngle": 270, "titleX": 39, "titleY": 222, "titleAlign": "center", "titleBaseline": "middle", "values": [0,10,20,30,40,50,60,70,80,90,100,110,120], "labelExpr": "datum.value % 20 === 0 ? format(datum.value, 'd') : ''", "tickSize": {"condition": {"test": "datum.value % 20 !== 0", "value": 3.5}, "value": 6}, "domainColor": "red", "tickColor": "red", "labelColor": "red", "domainWidth": 2.2}}}},
      {"mark": {"type": "point", "shape": "triangle-up", "filled": true, "color": "red", "size": 50, "opacity": 1},
       "encoding": {"x": {"field": "r", "type": "quantitative"}, "y": {"field": "b2", "type": "quantitative"}}},
      {"data": {"values": [{}]}, "mark": {"type": "rule", "color": "red", "strokeWidth": 1.5, "strokeDash": [9, 6]},
       "encoding": {"x": {"datum": 1.11}, "x2": {"datum": 5}, "y": {"datum": 107.72}}},
      {"data": {"values": [{}]}, "mark": {"type": "text", "text": "107.72", "align": "left", "baseline": "middle", "dx": 10, "dy": -17, "fontSize": 19, "fontWeight": "bold", "font": "Liberation Serif", "color": "black"},
       "encoding": {"x": {"datum": 1.11}, "y": {"datum": 107.72}}},
      {"data": {"values": [{}]}, "mark": {"type": "point", "shape": "M0,-1L-0.55,1L0,0.55L0.55,1Z", "filled": true, "color": "red", "size": 130, "opacity": 1, "yOffset": 5.5},
       "encoding": {"x": {"datum": 5}, "y": {"datum": 130}}}
    ]},
    {"layer": [
      {"mark": {"type": "line", "color": "blue", "strokeWidth": 1.5},
       "encoding": {
         "x": {"field": "r", "type": "quantitative"},
         "y": {"field": "b3", "type": "quantitative", "scale": {"domain": [0, 34], "nice": false}, "axis": {"orient": "right", "offset": 57, "title": "g(r)", "titleFont": "Liberation Serif", "labelFont": "Liberation Serif", "labelFontSize": 19, "titleColor": "blue", "titleAngle": 270, "titleX": 42, "titleY": 222, "titleAlign": "center", "titleBaseline": "middle", "values": [0,2.5,5,7.5,10,12.5,15,17.5,20,22.5,25,27.5,30,32.5], "labelExpr": "datum.value % 5 === 0 ? format(datum.value, 'd') : ''", "tickSize": {"condition": {"test": "datum.value % 5 !== 0", "value": 3.5}, "value": 6}, "domainColor": "blue", "tickColor": "blue", "labelColor": "blue", "domainWidth": 2.2}}}},
      {"mark": {"type": "point", "shape": "diamond", "filled": true, "color": "blue", "size": 55, "opacity": 1},
       "encoding": {"x": {"field": "r", "type": "quantitative"}, "y": {"field": "b3", "type": "quantitative"}}},
      {"data": {"values": [{}]}, "mark": {"type": "rule", "color": "blue", "strokeWidth": 1.5, "strokeDash": [9, 6]},
       "encoding": {"x": {"datum": 1.11}, "x2": {"datum": 5.497}, "y": {"datum": 25.55}}},
      {"data": {"values": [{}]}, "mark": {"type": "text", "text": "25.55", "align": "left", "baseline": "middle", "dx": 10, "dy": -6, "fontSize": 19, "fontWeight": "bold", "font": "Liberation Serif", "color": "black"},
       "encoding": {"x": {"datum": 1.11}, "y": {"datum": 25.55}}},
      {"data": {"values": [{}]}, "mark": {"type": "point", "shape": "M0,-1L-0.55,1L0,0.55L0.55,1Z", "filled": true, "color": "blue", "size": 130, "opacity": 1, "yOffset": 5.5},
       "encoding": {"x": {"datum": 5.497}, "y": {"datum": 34}}}
    ]},
    {"layer": [
      {"data": {"values": [{}]}, "mark": {"type": "rule", "color": "#22dd22", "strokeWidth": 3, "strokeDash": [9, 5]},
       "encoding": {"x": {"datum": 1.11}, "y": {"datum": 0, "scale": {"domain": [0, 235], "nice": false}, "axis": null}, "y2": {"datum": 223.81}}},
      {"data": {"values": [{}]}, "mark": {"type": "rule", "color": "#22dd22", "strokeWidth": 1.2},
       "encoding": {"x": {"datum": 1.235}, "y": {"datum": -14.5}, "x2": {"datum": 1.135}, "y2": {"datum": -1.0}}},
      {"data": {"values": [{}]}, "mark": {"type": "point", "shape": "M0,-1L-0.6,1L0.6,1Z", "filled": true, "color": "#22dd22", "size": 45, "angle": -22, "opacity": 1},
       "encoding": {"x": {"datum": 1.137}, "y": {"datum": -1.5}}},
      {"data": {"values": [{}]}, "mark": {"type": "text", "text": "1.11 Å", "align": "left", "baseline": "middle", "dx": 22.6, "dy": 22.3, "fontSize": 17, "fontWeight": "bold", "font": "Liberation Serif", "color": "black"},
       "encoding": {"x": {"datum": 1.11}, "y": {"datum": 0}}},
      {"data": {"values": [{}]}, "mark": {"type": "rule", "color": "black", "strokeWidth": 1.2, "strokeDash": [4, 3]},
       "encoding": {"x": {"datum": 2.493}, "x2": {"datum": 2.931}, "y": {"datum": 122.7}}},
      {"data": {"values": [{}]}, "mark": {"type": "point", "shape": "circle", "filled": true, "color": "black", "size": 30, "opacity": 1},
       "encoding": {"x": {"datum": 2.712}, "y": {"datum": 122.7}}},
      {"data": {"values": [{}]}, "mark": {"type": "text", "text": "Asphaltene-Asphaltene", "align": "left", "baseline": "middle", "fontSize": 22.5, "font": "Liberation Serif", "color": "black"},
       "encoding": {"x": {"datum": 3.019}, "y": {"datum": 122.7}}},
      {"data": {"values": [{}]}, "mark": {"type": "rule", "color": "#ff6666", "strokeWidth": 1.2, "strokeDash": [4, 3]},
       "encoding": {"x": {"datum": 2.493}, "x2": {"datum": 2.931}, "y": {"datum": 103.6}}},
      {"data": {"values": [{}]}, "mark": {"type": "point", "shape": "triangle-up", "filled": true, "color": "red", "size": 40, "opacity": 1},
       "encoding": {"x": {"datum": 2.712}, "y": {"datum": 103.6}}},
      {"data": {"values": [{}]}, "mark": {"type": "text", "text": "Resin-Resin", "align": "left", "baseline": "middle", "fontSize": 22.5, "font": "Liberation Serif", "color": "black"},
       "encoding": {"x": {"datum": 3.019}, "y": {"datum": 103.6}}},
      {"data": {"values": [{}]}, "mark": {"type": "rule", "color": "blue", "strokeWidth": 1.5},
       "encoding": {"x": {"datum": 2.493}, "x2": {"datum": 2.931}, "y": {"datum": 84.4}}},
      {"data": {"values": [{}]}, "mark": {"type": "point", "shape": "diamond", "filled": true, "color": "blue", "size": 45, "opacity": 1},
       "encoding": {"x": {"datum": 2.712}, "y": {"datum": 84.4}}},
      {"data": {"values": [{}]}, "mark": {"type": "text", "text": "Asphaltene-Resin", "align": "left", "baseline": "middle", "fontSize": 22.5, "font": "Liberation Serif", "color": "black"},
       "encoding": {"x": {"datum": 3.019}, "y": {"datum": 84.4}}}
    ]}
  ],
  "resolve": {"scale": {"y": "independent"}}
}
]
}
